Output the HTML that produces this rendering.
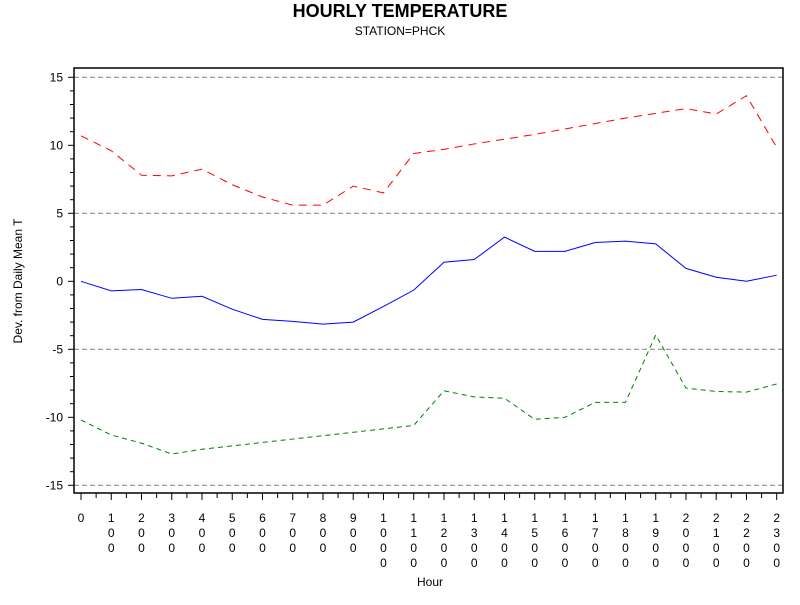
<!DOCTYPE html>
<html><head><meta charset="utf-8"><style>
body{margin:0;background:#fff;}
text{font-family:"Liberation Sans",Arial,sans-serif;}
</style></head><body>
<svg id="chart" width="800" height="600" xmlns="http://www.w3.org/2000/svg">
<rect width="800" height="600" fill="#fff"/>
<text x="400" y="17" text-anchor="middle" font-size="18" font-weight="bold">HOURLY TEMPERATURE</text>
<text x="400" y="35" text-anchor="middle" font-size="12">STATION=PHCK</text>
<text transform="translate(22,281) rotate(-90)" text-anchor="middle" font-size="12">Dev. from Daily Mean T</text>
<text x="430" y="586" text-anchor="middle" font-size="12">Hour</text>
<g id="grid"></g><g id="series"></g><g id="axes"></g>
<rect x="74" y="68" width="709" height="425" fill="none" stroke="#000" stroke-width="1.5"/>
</svg>
<script>
const hours=[0,100,200,300,400,500,600,700,800,900,1000,1100,1200,1300,1400,1500,1600,1700,1800,1900,2000,2100,2200,2300];
const yTicks=[15,10,5,0,-5,-10,-15];
const gridValues=[15,5,-5,-15];
const maxSeries=[10.7,9.6,7.8,7.75,8.25,7.1,6.2,5.6,5.6,7.0,6.5,9.4,9.7,10.1,10.45,10.8,11.2,11.6,12.0,12.35,12.7,12.3,13.65,9.85];
const meanSeries=[0,-0.7,-0.6,-1.25,-1.1,-2.05,-2.8,-2.95,-3.15,-3.0,-1.85,-0.65,1.4,1.6,3.25,2.2,2.2,2.85,2.95,2.75,0.95,0.3,0,0.45];
const minSeries=[-10.2,-11.3,-11.9,-12.7,-12.35,-12.1,-11.85,-11.6,-11.35,-11.1,-10.85,-10.6,-8.05,-8.5,-8.6,-10.15,-10.0,-8.9,-8.9,-3.95,-7.85,-8.1,-8.15,-7.55];
const NS='http://www.w3.org/2000/svg';
const x=h=>81+(h/2300)*(776.7-81);
const y=v=>281.3-v*13.6;
function mk(tag,attrs,parent){const e=document.createElementNS(NS,tag);for(const k in attrs)e.setAttribute(k,attrs[k]);parent.appendChild(e);return e;}
const grid=document.getElementById('grid'),ser=document.getElementById('series'),ax=document.getElementById('axes');
gridValues.forEach(v=>{const l=mk('line',{x1:74,x2:783,y1:y(v),y2:y(v),stroke:'#808080','stroke-dasharray':'5,3'},grid);

});
for(let v=-15;v<=15;v++){const major=v%5===0;const t=mk('line',{x1:major?68:70,x2:74,y1:y(v),y2:y(v),stroke:'#000'},ax);

}
yTicks.forEach(v=>{const t=mk('text',{x:63,y:y(v)+4,'text-anchor':'end','font-size':12},ax);t.textContent=v;

});
for(let i=0;i<hours.length*2-1;i++){const xx=x(i*50);const major=i%2===0;const t=mk('line',{x1:xx,x2:xx,y1:493,y2:major?500:498,stroke:'#000'},ax);

}
hours.forEach(h=>{const s=String(h);const t=mk('text',{x:x(h),'text-anchor':'middle','font-size':12},ax);


[...s].forEach((c,i)=>{const ts=mk('tspan',{x:x(h),y:522+i*15},t);ts.textContent=c;});});
function series(vals,color,dash,name){const pts=vals.map((v,i)=>x(hours[i])+','+y(v)).join(' ');
const p=mk('polyline',{points:pts,fill:'none',stroke:color,'stroke-width':1,'stroke-dasharray':dash},ser);

}
series(maxSeries,'#ff0000','8,6','max-deviation-line');
series(meanSeries,'#0000ff','none','mean-deviation-line');
series(minSeries,'#008000','5,4','min-deviation-line');
</script>
</body></html>
